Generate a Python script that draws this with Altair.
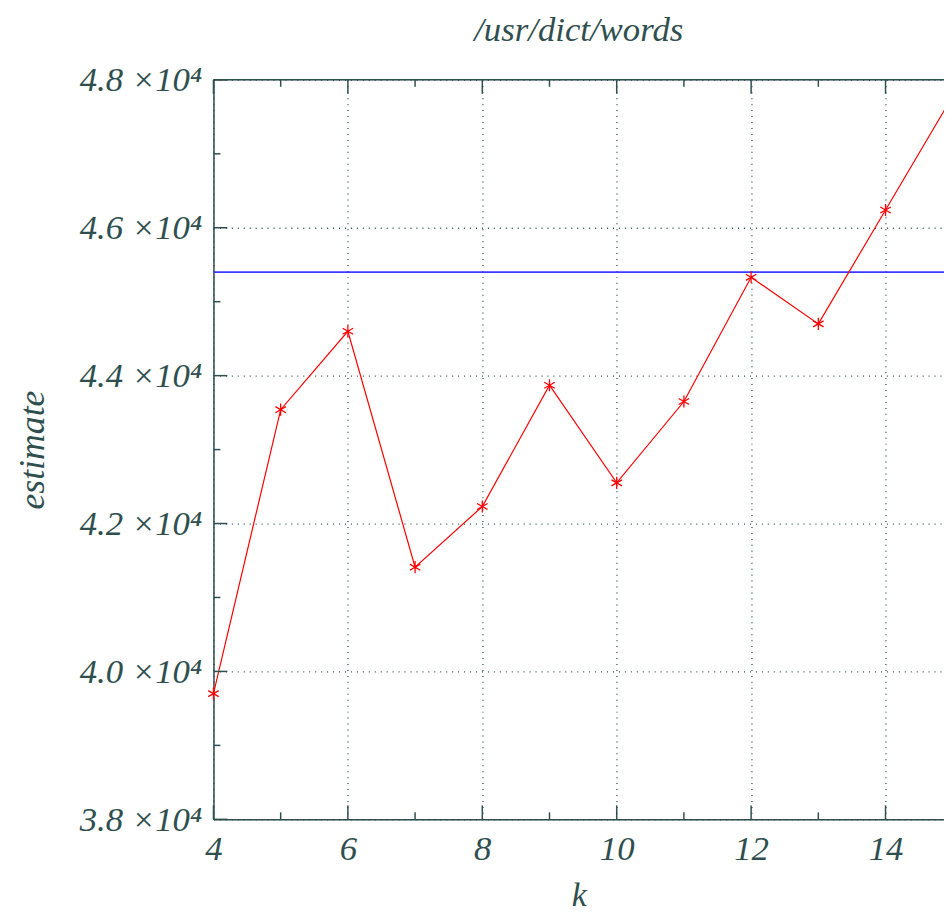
import altair as alt
import pandas as pd

# ---- data ----
k = [4, 5, 6, 7, 8, 9, 10, 11, 12, 13, 14, 15]
estimate = [39700, 43540, 44600, 41410, 42230, 43870, 42550, 43650, 45330, 44700, 46240, 47780]
true_count = [45400]
x_major = [4, 6, 8, 10, 12, 14]
x_minor = [5, 7, 9, 11, 13]
y_major = [38000, 40000, 42000, 44000, 46000, 48000]
y_minor = [39000, 41000, 43000, 45000, 47000]

TXT = "#2f4f4f"
FONT = "Liberation Serif"
W, H = 736, 745
XMIN, XMAX = 4, 14.87
YMIN, YMAX = 38000, 48000

df = pd.DataFrame({"k": k, "estimate": estimate})
df_true = pd.DataFrame({"v": true_count})
df_xmaj = pd.DataFrame({"x": x_major})
df_xmin = pd.DataFrame({"x": x_minor})
df_ymaj = pd.DataFrame({"y": y_major})
df_ymin = pd.DataFrame({"y": y_minor})

xs = alt.Scale(domain=[XMIN, XMAX], nice=False, zero=False)
ys = alt.Scale(domain=[YMIN, YMAX], nice=False, zero=False)

x_axis = alt.Axis(
    values=x_major, title="k", format="d",
    labelFont=FONT, labelFontSize=35, labelFontStyle="italic", labelColor=TXT,
    labelPadding=12, labelFlush=False,
    titleFont=FONT, titleFontSize=34, titleFontStyle="italic", titleFontWeight="normal",
    titleColor=TXT, titlePadding=13,
    ticks=False, domain=True, domainColor=TXT, domainWidth=1.5,
    grid=True, gridDash=[1, 5], gridColor=TXT, gridWidth=1.3, gridOpacity=1,
)
y_axis = alt.Axis(
    values=y_major, title="estimate",
    labelExpr="format(datum.value/10000, '.1f') + ' \u00d710\u2074'",
    labelFont=FONT, labelFontSize=35, labelFontStyle="italic", labelColor=TXT,
    labelPadding=12, labelFlush=False,
    titleFont=FONT, titleFontSize=36, titleFontStyle="italic", titleFontWeight="normal",
    titleColor=TXT, titlePadding=28,
    ticks=False, domain=True, domainColor=TXT, domainWidth=1.5,
    grid=True, gridDash=[1, 5], gridColor=TXT, gridWidth=1.3, gridOpacity=1,
)

line = alt.Chart(df).mark_line(color="#ff0000", strokeWidth=1.2, clip=True).encode(
    x=alt.X("k:Q", scale=xs, axis=x_axis),
    y=alt.Y("estimate:Q", scale=ys, axis=y_axis),
)

ASTER = "M0,-1L0,1M-0.866,-0.5L0.866,0.5M-0.866,0.5L0.866,-0.5"
points = alt.Chart(df).transform_filter(
    alt.datum.k <= XMAX
).mark_point(
    shape=ASTER, size=150, filled=False, color="#ff0000", strokeWidth=1.3, opacity=1
).encode(
    x=alt.X("k:Q", scale=xs),
    y=alt.Y("estimate:Q", scale=ys),
)

true_line = alt.Chart(df_true).mark_rule(color="#3a3aff", strokeWidth=1.8).encode(
    y=alt.Y("v:Q", scale=ys),
)

top_border = alt.Chart(df_true).mark_rule(color=TXT, strokeWidth=1.5).encode(
    y=alt.datum(YMAX, scale=ys),
)


def xticks(data, ln):
    bot = alt.Chart(data).mark_rule(color=TXT, strokeWidth=1.5, y2Offset=-ln).encode(
        x=alt.X("x:Q", scale=xs),
        y=alt.datum(YMIN, scale=ys),
        y2=alt.datum(YMIN),
    )
    top = alt.Chart(data).mark_rule(color=TXT, strokeWidth=1.5, y2Offset=ln).encode(
        x=alt.X("x:Q", scale=xs),
        y=alt.datum(YMAX, scale=ys),
        y2=alt.datum(YMAX),
    )
    return [bot, top]


def yticks(data, ln):
    left = alt.Chart(data).mark_rule(color=TXT, strokeWidth=1.5, x2Offset=ln).encode(
        y=alt.Y("y:Q", scale=ys),
        x=alt.datum(XMIN, scale=xs),
        x2=alt.datum(XMIN),
    )
    return [left]


layers = [true_line, line, points, top_border]
layers += xticks(df_xmaj, 14) + xticks(df_xmin, 7)
layers += yticks(df_ymaj, 14) + yticks(df_ymin, 7)

chart = alt.layer(*layers).properties(
    width=W,
    height=H,
    title=alt.Title(
        "/usr/dict/words", font=FONT, fontSize=35, fontStyle="italic",
        fontWeight="normal", color=TXT, anchor="middle", offset=15,
    ),
    autosize=alt.AutoSizeParams(type="none"),
    padding={"left": 207, "top": 69, "right": 0, "bottom": 92},
).configure_view(stroke=None).configure(background="white")

chart.save("out.html", embed_options={"renderer": "svg", "actions": False})
